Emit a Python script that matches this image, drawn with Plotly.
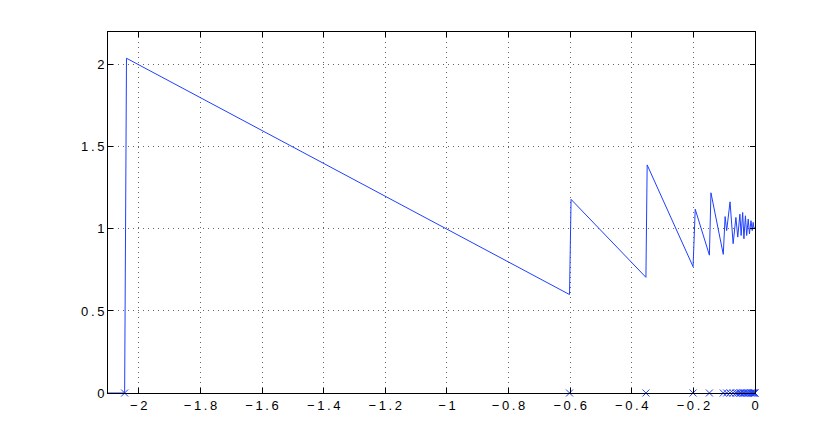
import plotly.graph_objects as go

# curve
line_x = [-2.1, -2.046, -2.040, -0.602, -0.597, -0.354, -0.350, -0.201, -0.194,
          -0.148, -0.143, -0.103, -0.097, -0.092, -0.081, -0.071, -0.062, -0.056,
          -0.049, -0.045, -0.040, -0.036, -0.031, -0.027, -0.022, -0.018, -0.013,
          -0.009, -0.006, -0.003, 0.0]
line_y = [0.0, 0.0, 2.04, 0.60, 1.18, 0.705, 1.39, 0.77, 1.12,
          0.84, 1.22, 0.845, 1.075, 0.99, 1.165, 0.91, 1.07, 0.95,
          1.09, 0.96, 1.10, 0.94, 1.08, 0.96, 1.06, 0.97, 1.05,
          0.99, 1.04, 1.00, 1.01]

# jump points marked on the x axis
mark_x = [-2.046, -0.602, -0.354, -0.201, -0.148, -0.103, -0.092, -0.081, -0.071,
          -0.062, -0.056, -0.049, -0.045, -0.040, -0.036, -0.031, -0.027, -0.022,
          -0.018, -0.013, -0.009, -0.006, -0.003, -0.001, 0.0]
mark_y = [0.0] * len(mark_x)

x_ticks = [-2, -1.8, -1.6, -1.4, -1.2, -1, -0.8, -0.6, -0.4, -0.2, 0]
x_labels = ["\u22122", "\u22121.8", "\u22121.6", "\u22121.4", "\u22121.2", "\u22121",
            "\u22120.8", "\u22120.6", "\u22120.4", "\u22120.2", "0"]
y_ticks = [0, 0.5, 1, 1.5, 2]
y_labels = ["0", "0.5", "1", "1.5", "2"]


def spaced(s):
    # the reference prints its tick labels with slightly wide letter spacing
    return "\u2009".join(s)


fig = go.Figure()

fig.add_trace(go.Scatter(
    x=line_x, y=line_y,
    mode='lines',
    line=dict(color='#1f3fff', width=1),
    showlegend=False
))

fig.add_trace(go.Scatter(
    x=mark_x, y=mark_y,
    mode='markers',
    marker=dict(symbol='x-thin', size=7, line=dict(color='#1f3fff', width=1)),
    cliponaxis=False,
    showlegend=False
))

axis_style = dict(
    showline=True, linecolor='black', linewidth=1, mirror='ticks',
    ticks='inside', ticklen=5, tickcolor='black', tickwidth=1,
    showgrid=True, gridcolor='#666666', gridwidth=1, griddash='1px,4px',
    zeroline=False,
    tickfont=dict(family='Liberation Sans, Arial, sans-serif', size=13, color='black'),
)

fig.update_xaxes(range=[-2.1, 0], tickvals=x_ticks,
                 ticktext=[spaced(t) for t in x_labels], **axis_style)
fig.update_yaxes(range=[0, 2.2], tickvals=y_ticks,
                 ticktext=[spaced(t) for t in y_labels], **axis_style)

fig.update_layout(
    width=830, height=442,
    margin=dict(l=100, r=83, t=24, b=57),
    paper_bgcolor='white',
    plot_bgcolor='white'
)

fig.write_html("out.html")
